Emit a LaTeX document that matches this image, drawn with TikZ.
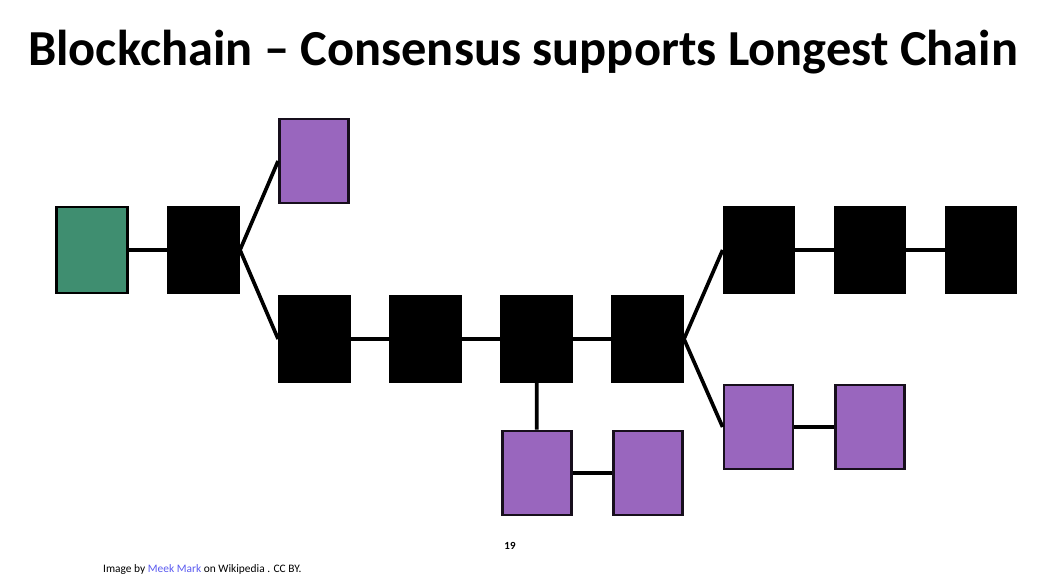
\documentclass[tikz,border=0pt]{standalone}
\usepackage{fontspec}
\setmainfont{Carlito}
\usetikzlibrary{positioning}
\definecolor{cGen}{HTML}{3F8E70}
\definecolor{cOrph}{HTML}{9966BE}
\definecolor{cLink}{HTML}{5A5AF0}
\tikzset{
  blk/.style={rectangle,fill=black,draw=black,line width=1pt,inner sep=0pt,minimum width=1.42cm,minimum height=1.72cm},
  gen/.style={blk,fill=cGen,line width=1.6pt},
  orph/.style={blk,fill=cOrph,draw=black!85!cOrph,line width=1.6pt,minimum width=1.38cm,minimum height=1.68cm},
  lnk/.style={line width=2.1pt,black},
}
\begin{document}
\begin{tikzpicture}[x=0.02cm,y=-0.02cm]
  \useasboundingbox (0,0) rectangle (1042,575);
  \node[font=\fontsize{28.7}{34}\selectfont\bfseries] (ttl) at (523,52) {Blockchain -- Consensus supports Longest Chain};
  \coordinate (fa) at (240,250);
  \coordinate (fb) at (684,339);
  % genesis and first block
  \node[gen] (g) at (92,250) {};
  \node[blk] (b1) at (203.5,250) {};
  \node[orph] (o1) at (314,161) {};
  % main chain
  \node[blk] (m1) at (314.5,339) {};
  \node[blk] (m2) at (425.5,339) {};
  \node[blk] (m3) at (536.5,339) {};
  \node[blk] (m4) at (647.5,339) {};
  % longest branch
  \node[blk] (l1) at (759,250) {};
  \node[blk] (l2) at (870,250) {};
  \node[blk] (l3) at (981,250) {};
  % orphan branches
  \node[orph] (s1) at (758.5,427) {};
  \node[orph] (s2) at (870,427) {};
  \node[orph] (d1) at (537,473) {};
  \node[orph] (d2) at (648,473) {};
  \draw[lnk] (g)--(b1);
  \draw[lnk] (fa)--(o1.west);
  \draw[lnk] (fa)--(m1.west);
  \draw[lnk] (m1)--(m2)--(m3)--(m4);
  \draw[lnk] (fb)--(l1.west);
  \draw[lnk] (fb)--(s1.west);
  \draw[lnk] (l1)--(l2)--(l3);
  \draw[lnk] (s1)--(s2);
  \draw[lnk] (m3)--(d1);
  \draw[lnk] (d1)--(d2);
  % footer
  \node[font=\fontsize{6.2}{7}\selectfont\bfseries] (pg) at (510,546) {19};
  \node[font=\fontsize{6.5}{7}\selectfont,anchor=west] (src) at (97,570) {Image by \textcolor{cLink}{Meek Mark} on Wikipedia . CC BY.};
\end{tikzpicture}
\end{document}
